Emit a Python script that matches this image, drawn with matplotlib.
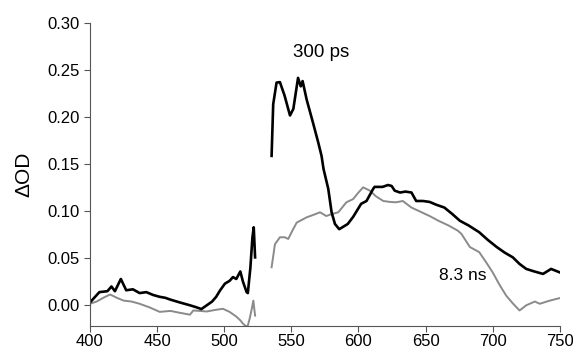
import matplotlib
matplotlib.use("Agg")
import matplotlib.pyplot as plt
import numpy as np

# 300 ps trace (black), two segments separated by a gap around 525-535 nm
ps_x1 = [400, 407, 413, 416, 418.6, 423, 427, 432, 437, 442, 447, 452, 456, 460, 467, 474.5,
         479, 483, 487, 491, 494, 497, 500.5, 504, 506.5, 509, 512, 514, 516.7, 517.6, 519.5,
         521, 522, 523]
ps_y1 = [0.003, 0.014, 0.015, 0.020, 0.015, 0.028, 0.016, 0.017, 0.013, 0.014, 0.011, 0.009,
         0.008, 0.006, 0.003, 0.000, -0.002, -0.004, 0.000, 0.004, 0.009, 0.016, 0.023, 0.026,
         0.030, 0.028, 0.036, 0.025, 0.014, 0.013, 0.040, 0.072, 0.083, 0.051]
ps_x2 = [535.3, 536.5, 539, 541.5, 545, 549, 551.5, 555, 557, 558.4, 561.4, 566, 570, 572.5,
         574, 577.5, 580, 582.5, 585.7, 592, 596, 602, 606, 611, 612, 618, 622, 624.7, 627,
         631, 635, 639.5, 643, 648, 653, 658, 664, 670, 675.5, 682, 690, 696, 703, 709, 715,
         720, 725, 731, 737.5, 743.5, 750]
ps_y2 = [0.159, 0.214, 0.237, 0.2375, 0.223, 0.202, 0.209, 0.242, 0.233, 0.2386, 0.219, 0.195,
         0.1735, 0.159, 0.145, 0.124, 0.099, 0.0865, 0.081, 0.0865, 0.094, 0.108, 0.111, 0.124,
         0.126, 0.126, 0.128, 0.127, 0.122, 0.120, 0.121, 0.120, 0.111, 0.111, 0.110, 0.107,
         0.104, 0.097, 0.090, 0.085, 0.0777, 0.070, 0.062, 0.056, 0.051, 0.044, 0.0387, 0.036,
         0.0334, 0.0387, 0.035]

# 8.3 ns trace (grey)
ns_x1 = [400, 405, 410, 415, 420, 425, 431, 437, 444, 452, 460, 467, 474.5, 477, 482, 487,
         493, 499, 504, 509, 512, 514, 516, 517.5, 519, 520.5, 521.7, 523]
ns_y1 = [0.0016, 0.004, 0.008, 0.0115, 0.008, 0.005, 0.004, 0.0016, -0.002, -0.007, -0.006,
         -0.008, -0.010, -0.0055, -0.006, -0.0066, -0.005, -0.0037, -0.007, -0.012, -0.016,
         -0.0196, -0.022, -0.022, -0.014, -0.004, 0.005, -0.011]
ns_x2 = [535.3, 537.8, 541.5, 545, 547.7, 551, 554, 561.4, 566, 571.4, 576, 580, 585, 591, 596,
         600, 603.5, 608.5, 613, 618.5, 623.5, 628, 633, 639.5, 647, 653, 659.5, 667, 674,
         676.7, 683, 690, 695, 700, 705, 710, 715, 720, 725, 731.4, 735, 742.6, 750]
ns_y2 = [0.0405, 0.065, 0.0724, 0.0724, 0.0706, 0.080, 0.088, 0.0936, 0.096, 0.099, 0.095,
         0.097, 0.099, 0.1096, 0.113, 0.120, 0.1255, 0.122, 0.116, 0.111, 0.110, 0.1096, 0.111,
         0.104, 0.099, 0.095, 0.090, 0.085, 0.0794, 0.076, 0.062, 0.0565, 0.046, 0.035, 0.022,
         0.0104, 0.002, -0.0055, 0.000, 0.004, 0.0016, 0.005, 0.0077]

x_ticks = [400, 450, 500, 550, 600, 650, 700, 750]
y_ticks = [0.00, 0.05, 0.10, 0.15, 0.20, 0.25, 0.30]

plt.rcParams["font.family"] = ["Liberation Sans", "DejaVu Sans"]

fig = plt.figure(figsize=(5.73, 3.49), dpi=100)
ax = fig.add_axes([0.157, 0.066, 0.820, 0.867])

grey = "#8a8a8a"
ax.plot(ns_x1, ns_y1, color=grey, linewidth=1.4)
ax.plot(ns_x2, ns_y2, color=grey, linewidth=1.4)
ax.plot(ps_x1, ps_y1, color="black", linewidth=1.9)
ax.plot(ps_x2, ps_y2, color="black", linewidth=1.9)

ax.text(572.5, 0.2688, "300 ps", ha="center", va="center", fontsize=13.5)
ax.text(678, 0.0316, "8.3 ns", ha="center", va="center", fontsize=12.5)

ax.set_xlim(400, 750)
ax.set_ylim(-0.022, 0.30)
ax.set_xticks(x_ticks)
ax.set_yticks(y_ticks)
ax.set_yticklabels(["{:.2f}".format(v) for v in y_ticks])
ax.set_ylabel("ΔOD", fontsize=15, labelpad=10)

for side in ["top", "right"]:
    ax.spines[side].set_visible(False)
for side in ["left", "bottom"]:
    ax.spines[side].set_color("#555555")
    ax.spines[side].set_linewidth(0.8)
ax.tick_params(direction="out", length=4, width=0.8, color="#555555", labelsize=12)
ax.tick_params(axis="x", pad=2)

fig.savefig("out.png", dpi=100)
